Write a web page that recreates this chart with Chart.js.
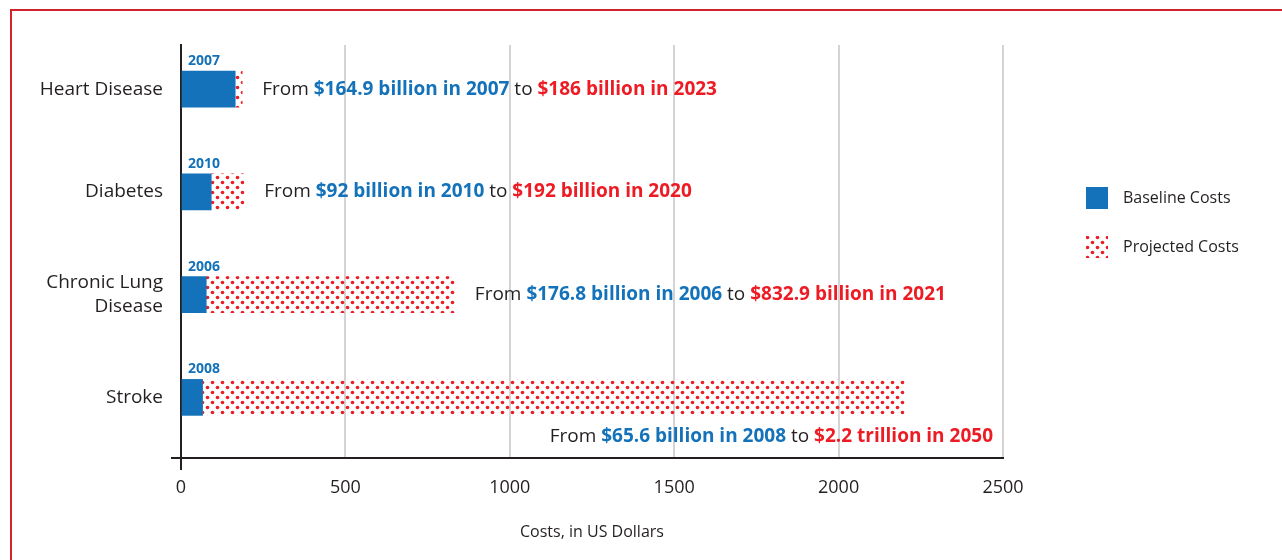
<!DOCTYPE html>
<html>
<head>
<meta charset="utf-8">
<script src="https://cdn.jsdelivr.net/npm/chart.js@4.4.1/dist/chart.umd.min.js"></script>
<style>
  html, body { margin: 0; padding: 0; background: #fff; overflow: hidden; }
  #frame { position: absolute; left: 10px; top: 9px; width: 1320px; height: 620px; border: 2px solid #d2232a; }
  #chart { position: absolute; left: 0; top: 0; }
</style>
</head>
<body>
<div id="frame"></div>
<canvas id="chart" width="1282" height="560"></canvas>
<script>
const categories = ['Heart Disease', 'Diabetes', ['Chronic Lung', 'Disease'], 'Stroke'];
const baseline = [164.9, 92, 76.8, 65.6];
const projected = [186, 192, 832.9, 2200];
const baseYears = ['2007', '2010', '2006', '2008'];
const baseText = ['$164.9 billion in 2007', '$92 billion in 2010', '$176.8 billion in 2006', '$65.6 billion in 2008'];
const projText = ['$186 billion in 2023', '$192 billion in 2020', '$832.9 billion in 2021', '$2.2 trillion in 2050'];
const xTicks = [0, 500, 1000, 1500, 2000, 2500];

const BLUE = '#1372b9';
const RED = '#ed1c24';
const DARK = '#231f20';
const FONT = "'Open Sans', sans-serif";

// red dot pattern on transparent background
function dotPattern(ctx) {
  const tile = document.createElement('canvas');
  tile.width = 10;
  tile.height = 10;
  const t = tile.getContext('2d');
  t.fillStyle = RED;
  [[2.5, 2.5], [7.5, 7.5]].forEach(([cx, cy]) => {
    t.beginPath();
    t.arc(cx, cy, 1.8, 0, Math.PI * 2);
    t.fill();
  });
  return ctx.createPattern(tile, 'repeat');
}

const canvas = document.getElementById('chart');
const ctx = canvas.getContext('2d');
const dots = dotPattern(ctx);

const annotate = {
  id: 'annotate',
  afterDatasetsDraw(chart) {
    const { ctx, scales: { x, y } } = chart;
    ctx.save();

    // small axis overhangs
    ctx.strokeStyle = DARK;
    ctx.lineWidth = 2;
    ctx.beginPath();
    ctx.moveTo(x.left - 10, y.bottom);
    ctx.lineTo(x.left, y.bottom);
    ctx.moveTo(x.left, y.bottom);
    ctx.lineTo(x.left, y.bottom + 12);
    ctx.stroke();

    categories.forEach((c, i) => {
      const cy = y.getPixelForValue(i);

      // year above the bar
      ctx.font = `bold 14px ${FONT}`;
      ctx.fillStyle = BLUE;
      ctx.textAlign = 'left';
      ctx.textBaseline = 'alphabetic';
      ctx.fillText(baseYears[i], x.left + 7, cy - 24);

      // sentence next to (or below) the bar
      const parts = [
        ['From ', DARK, ''],
        [baseText[i], BLUE, 'bold '],
        [' to ', DARK, ''],
        [projText[i], RED, 'bold ']
      ];
      let total = 0;
      parts.forEach(p => {
        ctx.font = `${p[2]}19px ${FONT}`;
        total += ctx.measureText(p[0]).width;
      });
      let tx = x.getPixelForValue(projected[i]) + 20;
      let ty = cy;
      if (tx + total > x.right) {
        tx = x.right - 10 - total;
        ty = cy + 39;
      }
      ctx.textBaseline = 'middle';
      parts.forEach(p => {
        ctx.font = `${p[2]}19px ${FONT}`;
        ctx.fillStyle = p[1];
        ctx.fillText(p[0], tx, ty);
        tx += ctx.measureText(p[0]).width;
      });
    });

    // legend
    const lx = x.right + 83;
    ctx.fillStyle = BLUE;
    ctx.fillRect(lx, 187, 22, 22);
    ctx.fillStyle = dots;
    ctx.fillRect(lx, 236, 22, 22);
    ctx.font = `16px ${FONT}`;
    ctx.fillStyle = DARK;
    ctx.textAlign = 'left';
    ctx.textBaseline = 'middle';
    ctx.fillText('Baseline Costs', lx + 37, 198);
    ctx.fillText('Projected Costs', lx + 37, 247);

    ctx.restore();
  }
};

new Chart(ctx, {
  type: 'bar',
  data: {
    datasets: [
      {
        label: 'Baseline Costs',
        data: baseline.map((v, i) => ({ x: v, y: i })),
        backgroundColor: BLUE,
        barThickness: 36,
        grouped: false,
        order: 0
      },
      {
        label: 'Projected Costs',
        data: projected.map((v, i) => ({ x: [baseline[i], v], y: i })),
        backgroundColor: dots,
        barThickness: 36,
        grouped: false,
        order: 1
      }
    ]
  },
  options: {
    indexAxis: 'y',
    responsive: false,
    animation: false,
    layout: { padding: { left: 10, right: 279, top: 45, bottom: 0 } },
    plugins: {
      legend: { display: false },
      tooltip: { enabled: false }
    },
    scales: {
      x: {
        type: 'linear',
        min: xTicks[0],
        max: xTicks[xTicks.length - 1],
        afterBuildTicks: s => { s.ticks = xTicks.map(v => ({ value: v })); },
        ticks: {
          color: DARK,
          font: { family: FONT, size: 18 },
          padding: 19,
          callback: v => String(v)
        },
        grid: {
          color: c => (c.tick && c.tick.value === 0 ? 'rgba(0,0,0,0)' : '#d4d4d4'),
          lineWidth: 2,
          drawTicks: false
        },
        border: { display: true, color: DARK, width: 2 },
        title: {
          display: true,
          text: 'Costs, in US Dollars',
          color: DARK,
          font: { family: FONT, size: 16 },
          padding: { top: 0, bottom: 18 }
        },
        afterFit: s => { s.height = 102; }
      },
      y: {
        type: 'linear',
        reverse: true,
        offset: false,
        min: -0.43,
        max: 3.59,
        afterBuildTicks: s => { s.ticks = categories.map((c, i) => ({ value: i })); },
        ticks: {
          color: DARK,
          font: { family: FONT, size: 19, lineHeight: 1.3 },
          padding: 18,
          callback: v => categories[v]
        },
        grid: { display: false, drawTicks: false, offset: false },
        border: { display: true, color: DARK, width: 2 },
        afterFit: s => { s.width = 171; }
      }
    }
  },
  plugins: [annotate]
});
</script>
</body>
</html>
